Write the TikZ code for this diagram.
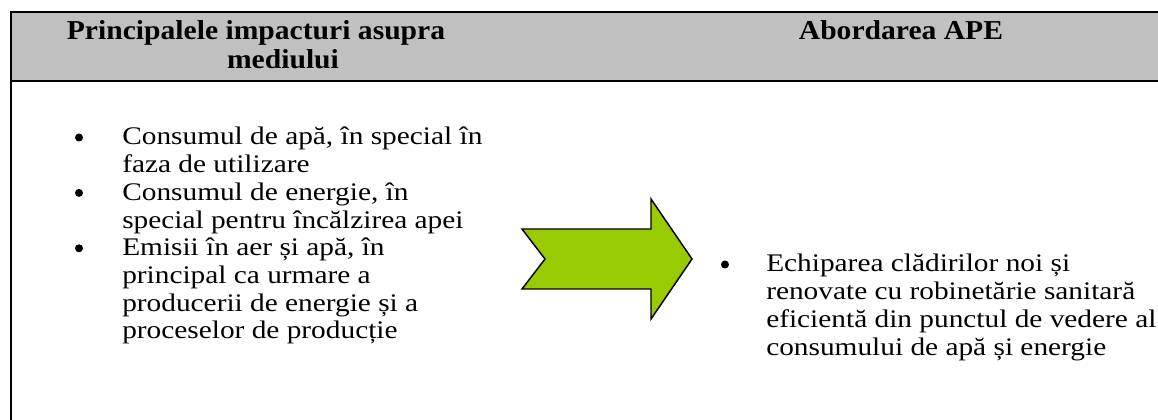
\documentclass[tikz,border=0pt]{standalone}
\usepackage{graphicx}
\usepackage{fontspec}
\setmainfont{Liberation Serif}
\definecolor{hdrgray}{HTML}{C0C0C0}
\definecolor{arrowgreen}{HTML}{99CC00}
\newcommand\widetxt[1]{\scalebox{1.158}[1]{#1}}
\newcommand\widehdr[1]{\scalebox{1.083}[1]{#1}}
\tikzset{
  txt/.style={anchor=base west, inner sep=0pt, font=\fontsize{19}{21}\selectfont},
  hdr/.style={anchor=base, inner sep=0pt, font=\fontsize{20.5}{22}\selectfont\bfseries},
  bul/.style={circle, fill=black, inner sep=0pt, minimum size=6pt},
  frame/.style={line width=1.6pt, draw=black},
  bigarrow/.style={fill=arrowgreen, draw=black, line width=1.1pt, line join=miter}
}
\begin{document}
\begin{tikzpicture}[x=0.75pt, y=-0.75pt]
\useasboundingbox (0,0) rectangle (1158,420);
\begin{scope}
\clip (0,0) rectangle (1158,420);
% header band
\fill[hdrgray] (11,12) rectangle (1170,81);
\draw[frame] (1170,12) -- (11,12) -- (11,430);
\draw[frame] (11,81) -- (1170,81);
\end{scope}
% header texts
\node[hdr] (h1a) at (256,39.5) {\widehdr{Principalele impacturi asupra}};
\node[hdr] (h1b) at (283,69) {\widehdr{mediului}};
\node[hdr] (h2) at (901,39.5) {\widehdr{Abordarea APE}};
% left bullets
\node[bul] (b1) at (79,137.5) {};
\node[txt] (l1) at (122,145) {\widetxt{Consumul de apă, în special în}};
\node[txt] (l2) at (122,172.7) {\widetxt{faza de utilizare}};
\node[bul] (b2) at (79,192.9) {};
\node[txt] (l3) at (122,200.4) {\widetxt{Consumul de energie, în}};
\node[txt] (l4) at (122,228.1) {\widetxt{special pentru încălzirea apei}};
\node[bul] (b3) at (79,248.3) {};
\node[txt] (l5) at (122,255.8) {\widetxt{Emisii în aer și apă, în}};
\node[txt] (l6) at (122,283.5) {\widetxt{principal ca urmare a}};
\node[txt] (l7) at (122,311.2) {\widetxt{producerii de energie și a}};
\node[txt] (l8) at (122,338.9) {\widetxt{proceselor de producție}};
% arrow
\coordinate (a1) at (522,229);
\coordinate (a2) at (651,229);
\coordinate (a3) at (651,199);
\coordinate (a4) at (692,259);
\coordinate (a5) at (651,319);
\coordinate (a6) at (651,289);
\coordinate (a7) at (522,289);
\coordinate (a8) at (545,259);
\draw[bigarrow] (a1) -- (a2) -- (a3) -- (a4) -- (a5) -- (a6) -- (a7) -- (a8) -- cycle;
% right bullet
\node[bul] (b4) at (725,264.5) {};
\node[txt] (r1) at (766,272) {\widetxt{Echiparea clădirilor noi și}};
\node[txt] (r2) at (766,299.7) {\widetxt{renovate cu robinetărie sanitară}};
\node[txt] (r3) at (766,327.4) {\widetxt{eficientă din punctul de vedere al}};
\node[txt] (r4) at (766,355.1) {\widetxt{consumului de apă și energie}};
\end{tikzpicture}
\end{document}
